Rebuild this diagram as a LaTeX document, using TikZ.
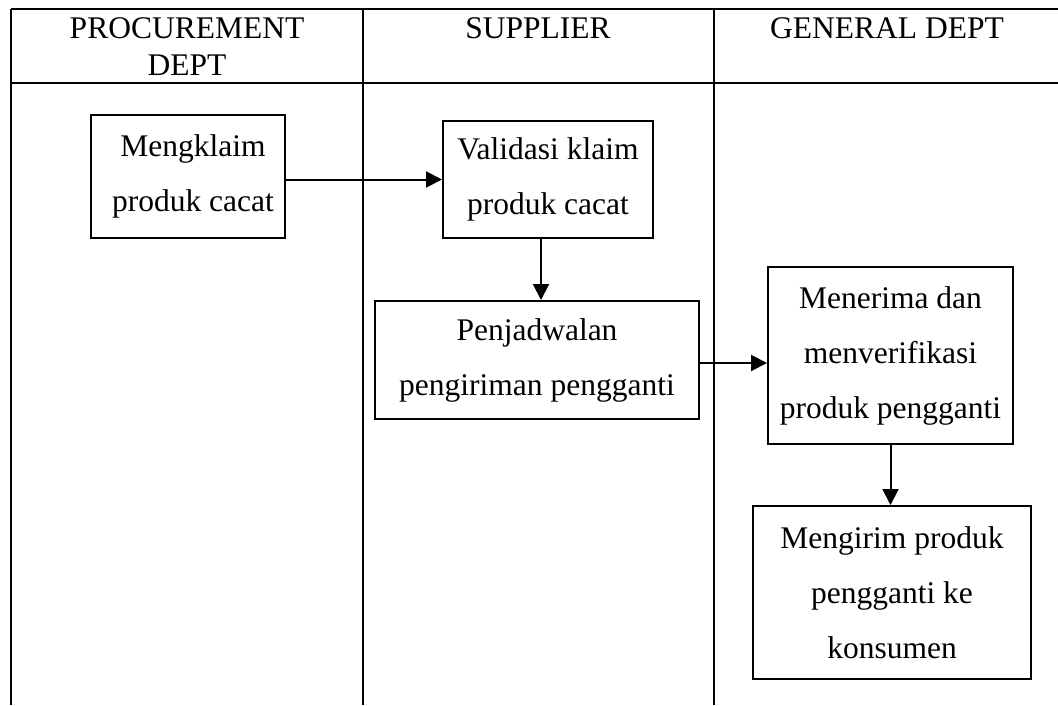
\documentclass[tikz,border=0pt]{standalone}
\usepackage{fontspec}
\setmainfont{Liberation Serif}
\usetikzlibrary{arrows.meta}

\tikzset{
  lane/.style={line width=2pt},
  headrule/.style={line width=2.6pt},
  head/.style={font=\fontsize{31.5}{37}\selectfont, align=center, inner sep=0pt, anchor=north},
  stepbox/.style={draw, line width=2pt, align=center, inner sep=0pt,
    font=\fontsize{31.5}{55}\selectfont},
  flow/.style={line width=2pt, -{Triangle[length=16pt,width=16pt]}}
}

\begin{document}
\begin{tikzpicture}[x=1pt, y=-1pt]
  \useasboundingbox (0,0) rectangle (1058,705);

  % swimlane grid
  \draw[headrule] (11,9) -- (1058,9);
  \draw[headrule] (11,83) -- (1058,83);
  \draw[lane] (11,9) -- (11,705);
  \draw[lane] (363,9) -- (363,705);
  \draw[lane] (714,9) -- (714,705);

  % lane headings
  \node[head] (hproc) at (187,17.5) {PROCUREMENT\\DEPT};
  \node[head] (hsup)  at (538,17.5) {SUPPLIER};
  \node[head] (hgen)  at (887,17.5) {GENERAL DEPT};

  % process steps
  \node[stepbox, minimum width=194pt, minimum height=123pt] (b1) at (188,176.5)
    {\hspace*{10pt}Mengklaim\\\hspace*{10pt}produk cacat};
  \node[stepbox, minimum width=210pt, minimum height=117pt] (b2) at (548,179.5)
    {Validasi klaim\\produk cacat};
  \node[stepbox, minimum width=324pt, minimum height=118pt] (b3) at (537,360)
    {Penjadwalan\\pengiriman pengganti};
  \node[stepbox, minimum width=245pt, minimum height=177pt] (b4) at (890.5,355.5)
    {Menerima dan\\menverifikasi\\produk pengganti};
  \node[stepbox, minimum width=278pt, minimum height=173pt] (b5) at (892,592.5)
    {Mengirim produk\\pengganti ke\\konsumen};

  % connectors
  \draw[flow] (b1.east |- b2.west) -- (b2.west);
  \draw[flow] ([xshift=-7pt]b2.south) -- ([xshift=4pt]b3.north);
  \draw[flow] ([yshift=-3pt]b3.east) -- ([yshift=-3pt]b3.east -| b4.west);
  \draw[flow] (b4.south) -- (b4.south |- b5.north);
\end{tikzpicture}
\end{document}
